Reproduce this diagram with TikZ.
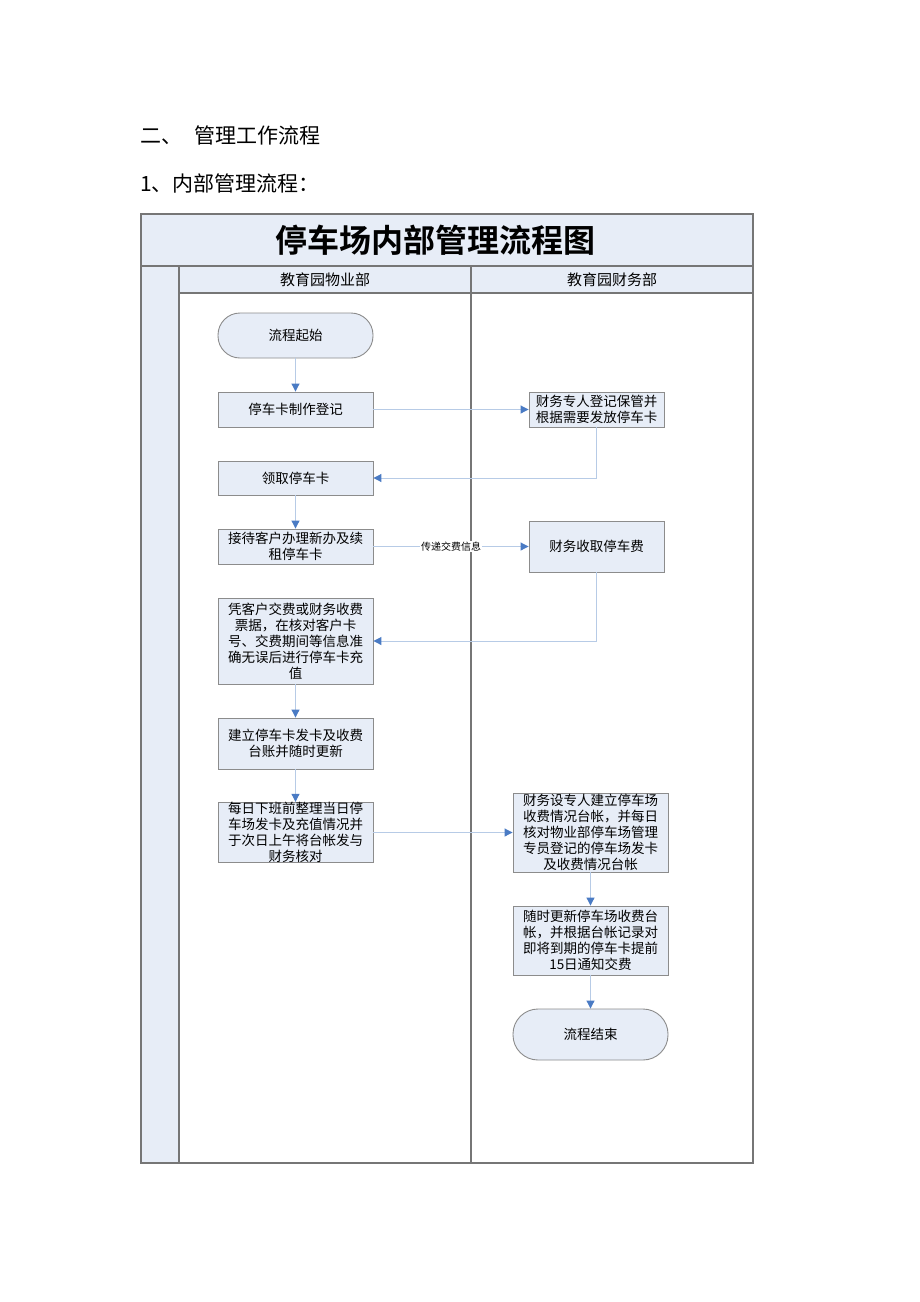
\documentclass[tikz,border=0pt]{standalone}
\usepackage{fontspec}
\setmainfont{Liberation Serif}
\newfontfamily\cjk{Noto Sans CJK SC}
\newfontfamily\cjkb{Noto Sans CJK SC}[BoldFont={* Bold}]
\usetikzlibrary{arrows.meta}
\definecolor{laneblue}{HTML}{E7EDF7}
\definecolor{boxgray}{HTML}{8C8C8C}
\definecolor{framegray}{HTML}{767676}
\definecolor{connblue}{HTML}{B7CBE6}
\definecolor{tipblue}{HTML}{4A7BC4}
\tikzset{
  box/.style={draw=boxgray, line width=0.9pt, fill=laneblue, inner sep=0pt, align=center,
    font=\cjk\fontsize{13.5}{16}\selectfont},
  stadium/.style={box, rounded corners=22pt},
  conn/.style={draw=connblue, line width=1pt, -{Triangle[width=8pt,length=8pt,fill=tipblue,color=tipblue]}},
  frame/.style={draw=framegray, line width=1.2pt},
  lbl/.style={fill=white, inner sep=1pt, font=\cjk\fontsize{10}{12}\selectfont},
}
\begin{document}
\begin{tikzpicture}[x=1pt,y=-1pt]
\useasboundingbox (0,0) rectangle (920,1302);
\fill[white] (0,0) rectangle (920,1302);
% headings
\node[anchor=west, inner sep=0, font=\cjk\fontsize{21}{24}\selectfont] (h1) at (140,135) {二、\hspace{12pt}管理工作流程};
\node[anchor=west, inner sep=0, font=\cjk\fontsize{21}{24}\selectfont] (h2) at (140,183) {1、内部管理流程：};
% frame fills
\fill[laneblue] (141,214) rectangle (753,266);
\fill[laneblue] (141,266) rectangle (179,1163);
\fill[laneblue] (179,266) rectangle (753,293);
% frame lines
\draw[frame] (141,214) rectangle (753,1163);
\draw[frame] (141,266) -- (753,266);
\draw[frame] (179,266) -- (179,1163);
\draw[frame] (179,293) -- (753,293);
\draw[frame] (471,266) -- (471,1163);
% titles
\node[inner sep=0, font=\cjkb\bfseries\fontsize{32}{36}\selectfont] (title) at (435,240) {停车场内部管理流程图};
\node[inner sep=0, font=\cjk\fontsize{15}{18}\selectfont] (lane1) at (325,279.5) {教育园物业部};
\node[inner sep=0, font=\cjk\fontsize{15}{18}\selectfont] (lane2) at (612,279.5) {教育园财务部};
% nodes
\node[stadium, minimum width=155, minimum height=45] (start) at (295.5,335.5) {流程起始};
\node[box, minimum width=155, minimum height=35] (b1) at (295.5,409.5) {停车卡制作登记};
\node[box, minimum width=135, minimum height=35] (b2) at (596.5,409.5) {财务专人登记保管并\\根据需要发放停车卡};
\node[box, minimum width=155, minimum height=34] (b3) at (295.5,478) {领取停车卡};
\node[box, minimum width=155, minimum height=35] (b4) at (295.5,546.5) {接待客户办理新办及续\\租停车卡};
\node[box, minimum width=135, minimum height=51] (b5) at (596.5,546.5) {财务收取停车费};
\node[box, minimum width=155, minimum height=86] (b6) at (295.5,641) {凭客户交费或财务收费\\票据，在核对客户卡\\号、交费期间等信息准\\确无误后进行停车卡充\\值};
\node[box, minimum width=155, minimum height=51] (b7) at (295.5,743.5) {建立停车卡发卡及收费\\台账并随时更新};
\node[box, minimum width=155, minimum height=59] (b8) at (295.5,832.5) {每日下班前整理当日停\\车场发卡及充值情况并\\于次日上午将台帐发与\\财务核对};
\node[box, minimum width=155, minimum height=79] (b9) at (590.5,832.5) {财务设专人建立停车场\\收费情况台帐，并每日\\核对物业部停车场管理\\专员登记的停车场发卡\\及收费情况台帐};
\node[box, minimum width=155, minimum height=69] (b10) at (590.5,940.5) {随时更新停车场收费台\\帐，并根据台帐记录对\\即将到期的停车卡提前\\15日通知交费};
\node[stadium, rounded corners=25pt, minimum width=155, minimum height=51] (end) at (590.5,1034.5) {流程结束};
% connectors
\draw[conn] (start) -- (b1);
\draw[conn] (b1) -- (b2);
\draw[conn] (b2.south) |- (b3.east);
\draw[conn] (b3) -- (b4);
\draw[conn] (b4) -- node[lbl] (lbl1) {传递交费信息} (b5);
\draw[conn] (b5.south) |- (b6.east);
\draw[conn] (b6) -- (b7);
\draw[conn] (b7) -- (b8);
\draw[conn] (b8) -- (b9);
\draw[conn] (b9) -- (b10);
\draw[conn] (b10) -- (end);
\end{tikzpicture}
\end{document}
